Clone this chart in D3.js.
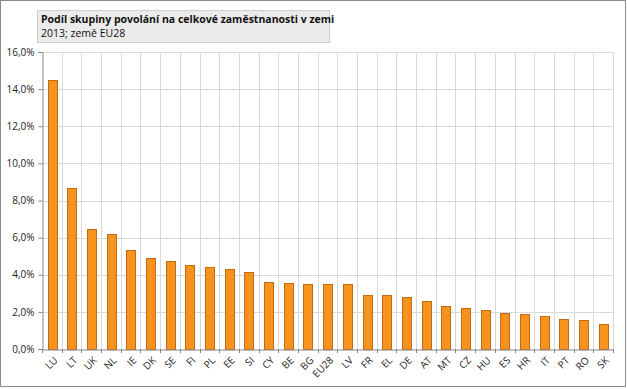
<!DOCTYPE html>
<html>
<head>
<meta charset="utf-8">
<script src="https://cdn.jsdelivr.net/npm/d3@7"></script>
<style>
  body { margin: 0; background: #fff; }
  text { font-family: "Open Sans", "DejaVu Sans", sans-serif; }
</style>
</head>
<body>
<div id="chart"></div>
<script>
// data
var countries = ["LU", "LT", "UK", "NL", "IE", "DK", "SE", "FI", "PL", "EE", "SI", "CY", "BE", "BG",
  "EU28", "LV", "FR", "EL", "DE", "AT", "MT", "CZ", "HU", "ES", "HR", "IT", "PT", "RO", "SK"];
var shares = [14.5, 8.67, 6.47, 6.2, 5.35, 4.9, 4.76, 4.53, 4.43, 4.3, 4.15, 3.62, 3.57, 3.52,
  3.52, 3.52, 2.93, 2.92, 2.8, 2.6, 2.32, 2.22, 2.12, 1.95, 1.89, 1.8, 1.64, 1.56, 1.32];
var yTicks = [0, 2, 4, 6, 8, 10, 12, 14, 16];
var title = "Podíl skupiny povolání na celkové zaměstnanosti v zemi";
var subtitle = "2013; země EU28";

var svgWidth = 627;
var svgHeight = 389;

var margin = { top: 52, right: 14, bottom: 40, left: 42 };
var width = svgWidth - margin.left - margin.right;
var height = svgHeight - margin.top - margin.bottom;

var svg = d3.select("#chart")
  .append("svg")
  .attr("width", svgWidth)
  .attr("height", svgHeight);

// outer frame
svg.append("rect")
  .attr("x", 0.5).attr("y", 0.5)
  .attr("width", svgWidth - 2).attr("height", svgHeight - 3)
  .attr("fill", "#fff")
  .attr("stroke", "#8c8c8c");

var chartGroup = svg.append("g")
  .attr("transform", `translate(${margin.left}, ${margin.top})`);

var x = d3.scaleBand()
  .domain(countries)
  .range([0, width])
  .paddingInner(0.56)
  .paddingOuter(0.28);

var y = d3.scaleLinear()
  .domain([0, 16])
  .range([height, 0]);

var step = x.step();

// horizontal grid
chartGroup.append("g")
  .selectAll("line")
  .data(yTicks.slice(1))
  .enter()
  .append("line")
  .attr("x1", 0).attr("x2", width)
  .attr("y1", d => Math.round(y(d)) + 0.5)
  .attr("y2", d => Math.round(y(d)) + 0.5)
  .attr("stroke", "#d9d9d9");

// vertical grid at category boundaries
chartGroup.append("g")
  .selectAll("line")
  .data(countries)
  .enter()
  .append("line")
  .attr("x1", (d, i) => Math.round((i + 1) * step) + 0.5)
  .attr("x2", (d, i) => Math.round((i + 1) * step) + 0.5)
  .attr("y1", 0).attr("y2", height)
  .attr("stroke", "#d9d9d9");

// bars
chartGroup.selectAll("rect.bar")
  .data(countries)
  .enter()
  .append("rect")
  .attr("class", "bar")
  .attr("x", d => Math.round(x(d)) + 0.5)
  .attr("y", (d, i) => Math.round(y(shares[i])) + 0.5)
  .attr("width", Math.round(x.bandwidth()))
  .attr("height", (d, i) => height - Math.round(y(shares[i])))
  .attr("fill", "#f5931e")
  .attr("stroke", "#c46a12")
  .attr("stroke-width", 1);

// y axis
var leftAxis = d3.axisLeft(y)
  .tickValues(yTicks)
  .tickSize(4)
  .tickPadding(3)
  .tickFormat(d => d.toFixed(1).replace(".", ",") + "%");

var yAxis = chartGroup.append("g")
  .attr("transform", "translate(0.5,0)")
  .call(leftAxis);
yAxis.select(".domain").attr("stroke", "#868686");
yAxis.selectAll(".tick line").attr("stroke", "#868686");
yAxis.selectAll("text")
  .attr("font-size", "10px")
  .attr("fill", "#222")
  .attr("dx", "-1");

// x axis
var bottomAxis = d3.axisBottom(x).tickSize(0).tickPadding(0);
var xAxis = chartGroup.append("g")
  .attr("transform", `translate(0, ${height + 0.5})`)
  .call(bottomAxis);
xAxis.select(".domain").attr("stroke", "#868686");
xAxis.selectAll("text")
  .attr("font-size", "10px")
  .attr("fill", "#222")
  .attr("text-anchor", "end")
  .attr("transform", "translate(4,9) rotate(-45)")
  .attr("dy", "0.35em");

// category tick marks
chartGroup.append("g")
  .selectAll("line")
  .data(d3.range(countries.length + 1))
  .enter()
  .append("line")
  .attr("x1", d => Math.round(d * step) + 0.5)
  .attr("x2", d => Math.round(d * step) + 0.5)
  .attr("y1", height).attr("y2", height + 4)
  .attr("stroke", "#868686");

// title box
var titleBox = svg.append("g");
titleBox.append("rect")
  .attr("x", 37.5).attr("y", 10.5)
  .attr("width", 292).attr("height", 32)
  .attr("fill", "#ebebeb")
  .attr("stroke", "#cfcfcf");
titleBox.append("text")
  .attr("x", 41).attr("y", 23)
  .attr("font-size", "10.5px")
  .attr("font-weight", "bold")
  .attr("fill", "#111")
  .text(title);
titleBox.append("text")
  .attr("x", 41).attr("y", 37)
  .attr("font-size", "10.5px")
  .attr("fill", "#111")
  .text(subtitle);
</script>
</body>
</html>
